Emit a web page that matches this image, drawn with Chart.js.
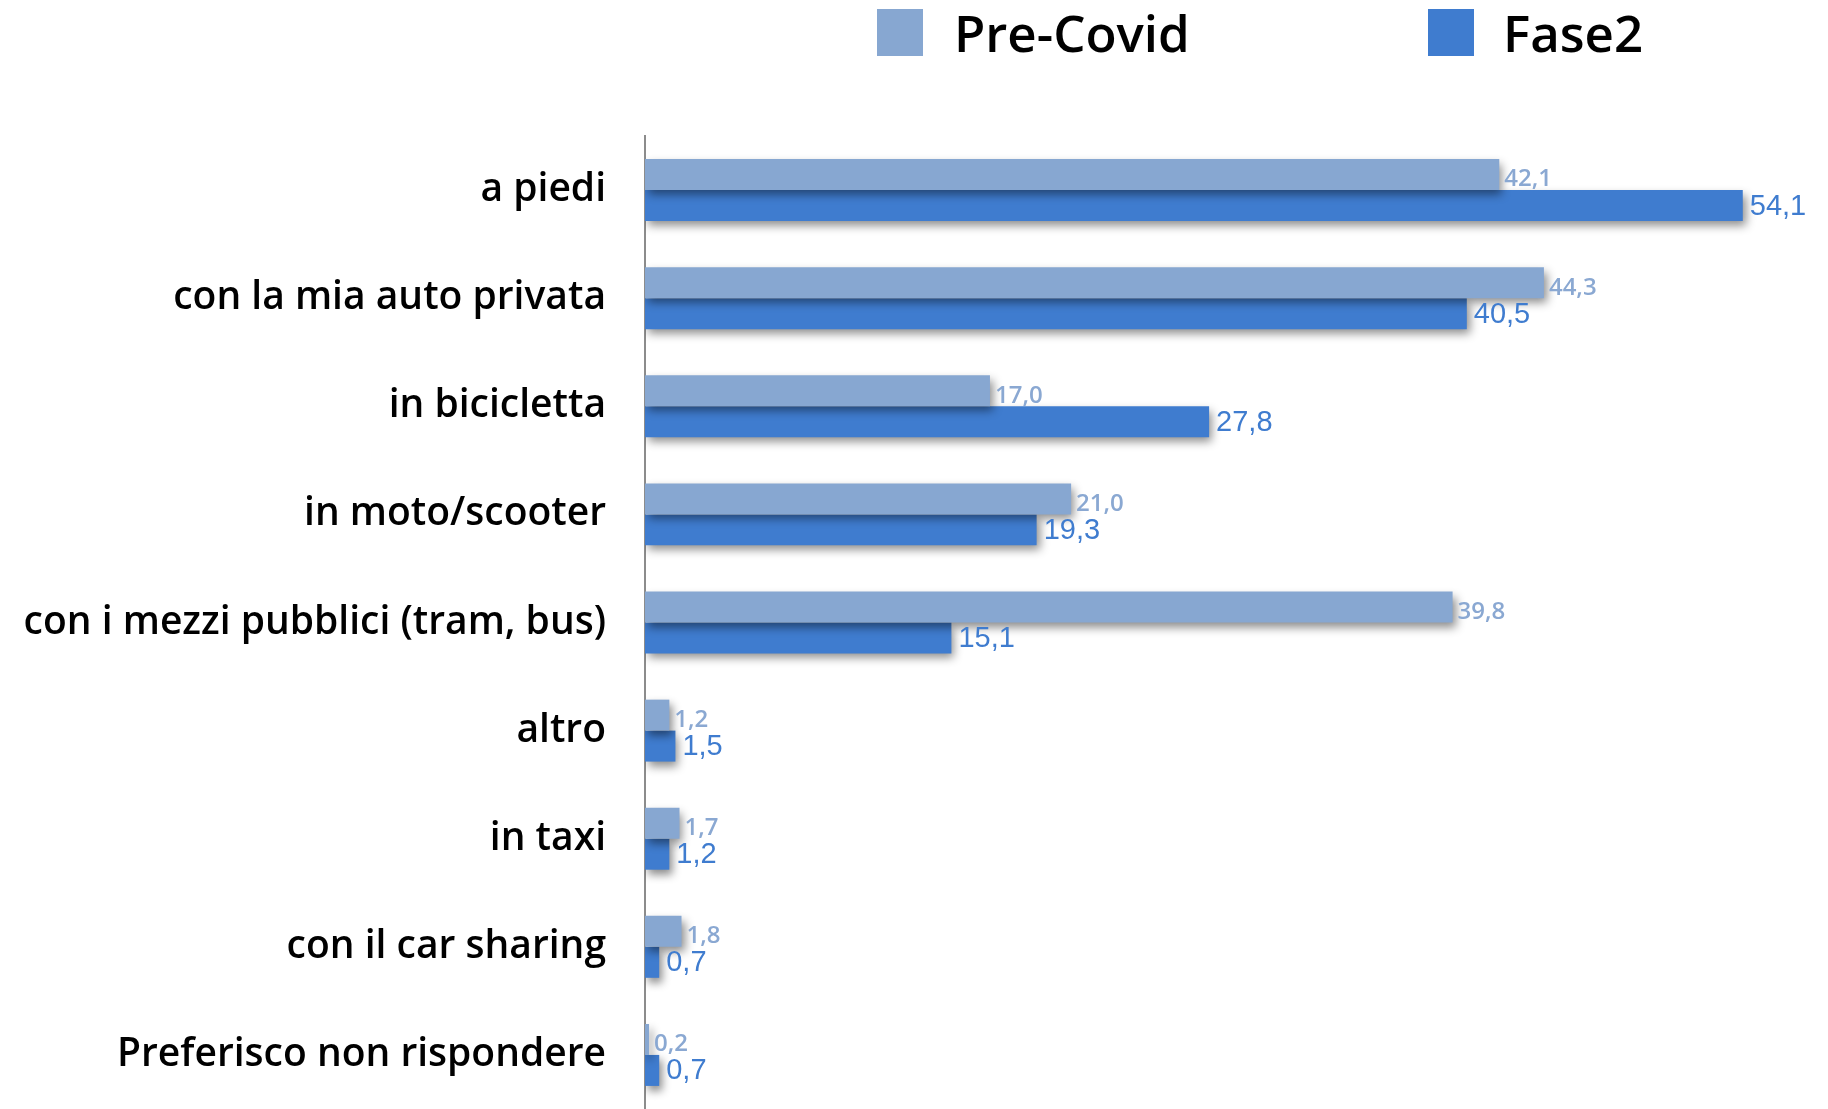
<!DOCTYPE html>
<html>
<head>
<meta charset="utf-8">
<script src="https://cdn.jsdelivr.net/npm/chart.js@4/dist/chart.umd.min.js"></script>
<style>
  body { margin: 0; background: #fff; }
  #wrap { position: relative; width: 1828px; height: 1109px; }
  .legend { position: absolute; top: 0; left: 0; width: 1828px; height: 70px; font-family: "Open Sans", sans-serif; font-weight: 600; font-size: 51px; color: #000; }
  .legend span.box { position: absolute; top: 9px; width: 46px; height: 47px; }
  .legend span.txt { position: absolute; top: 2px; line-height: 60px; }
</style>
</head>
<body>
<div id="wrap">
  <div class="legend">
    <span class="box" style="left:877px;background:#87A7D1"></span>
    <span class="txt" style="left:954px">Pre-Covid</span>
    <span class="box" style="left:1428px;background:#3F7CCF"></span>
    <span class="txt" style="left:1503px">Fase2</span>
  </div>
  <canvas id="chart" width="1828" height="1109"></canvas>
</div>
<script>
const categories = [
  "a piedi",
  "con la mia auto privata",
  "in bicicletta",
  "in moto/scooter",
  "con i mezzi pubblici (tram, bus)",
  "altro",
  "in taxi",
  "con il car sharing",
  "Preferisco non rispondere",
];
const preCovid = [42.1, 44.3, 17.0, 21.0, 39.8, 1.2, 1.7, 1.8, 0.2];
const fase2 = [54.1, 40.5, 27.8, 19.3, 15.1, 1.5, 1.2, 0.7, 0.7];

const lightBlue = "#87A7D1";
const blue = "#3F7CCF";

// soft drop shadow under the bars
const shadowPlugin = {
  id: "barShadow",
  beforeDatasetsDraw(chart) {
    const ctx = chart.ctx;
    ctx.save();
    ctx.shadowColor = "rgba(0,0,0,0.45)";
    ctx.shadowBlur = 9;
    ctx.shadowOffsetX = 3;
    ctx.shadowOffsetY = 5;
  },
  afterDatasetsDraw(chart) {
    chart.ctx.restore();
  },
};

// value labels at bar ends
const valueLabels = {
  id: "valueLabels",
  afterDraw(chart) {
    const ctx = chart.ctx;
    ctx.save();
    ctx.textAlign = "left";
    ctx.textBaseline = "middle";
    chart.data.datasets.forEach((ds, i) => {
      const meta = chart.getDatasetMeta(i);
      meta.data.forEach((bar, j) => {
        const txt = ds.data[j].toFixed(1).replace(".", ",");
        if (i === 0) {
          ctx.font = "600 24px 'Open Sans', sans-serif";
          ctx.fillStyle = "#8AA8D2";
          ctx.fillText(txt, bar.x + 5, bar.y + 5);
        } else {
          ctx.font = "29px 'Liberation Sans', Arial, sans-serif";
          ctx.fillStyle = blue;
          ctx.fillText(txt, bar.x + 7, bar.y + 1);
        }
      });
    });
    ctx.restore();
  },
};

new Chart(document.getElementById("chart"), {
  type: "bar",
  data: {
    labels: categories,
    datasets: [
      { label: "Pre-Covid", data: preCovid, backgroundColor: lightBlue },
      { label: "Fase2", data: fase2, backgroundColor: blue },
    ],
  },
  options: {
    indexAxis: "y",
    responsive: false,
    animation: false,
    categoryPercentage: 0.573,
    barPercentage: 1.0,
    layout: { padding: { top: 136, right: 0, bottom: 0, left: 0 } },
    plugins: {
      legend: { display: false },
      tooltip: { enabled: false },
    },
    scales: {
      x: { display: false, min: 0, max: 58.3 },
      y: {
        grid: { display: false, drawTicks: false },
        border: { display: true, color: "#8c8c8c", width: 2 },
        ticks: {
          color: "#000",
          padding: 39,
          font: { family: "'Open Sans', sans-serif", size: 39, weight: 600 },
        },
        afterFit(scale) {
          scale.width = 645;
          scale.paddingTop = 0;
          scale.paddingBottom = 0;
        },
      },
    },
  },
  plugins: [shadowPlugin, valueLabels],
});
</script>
</body>
</html>
